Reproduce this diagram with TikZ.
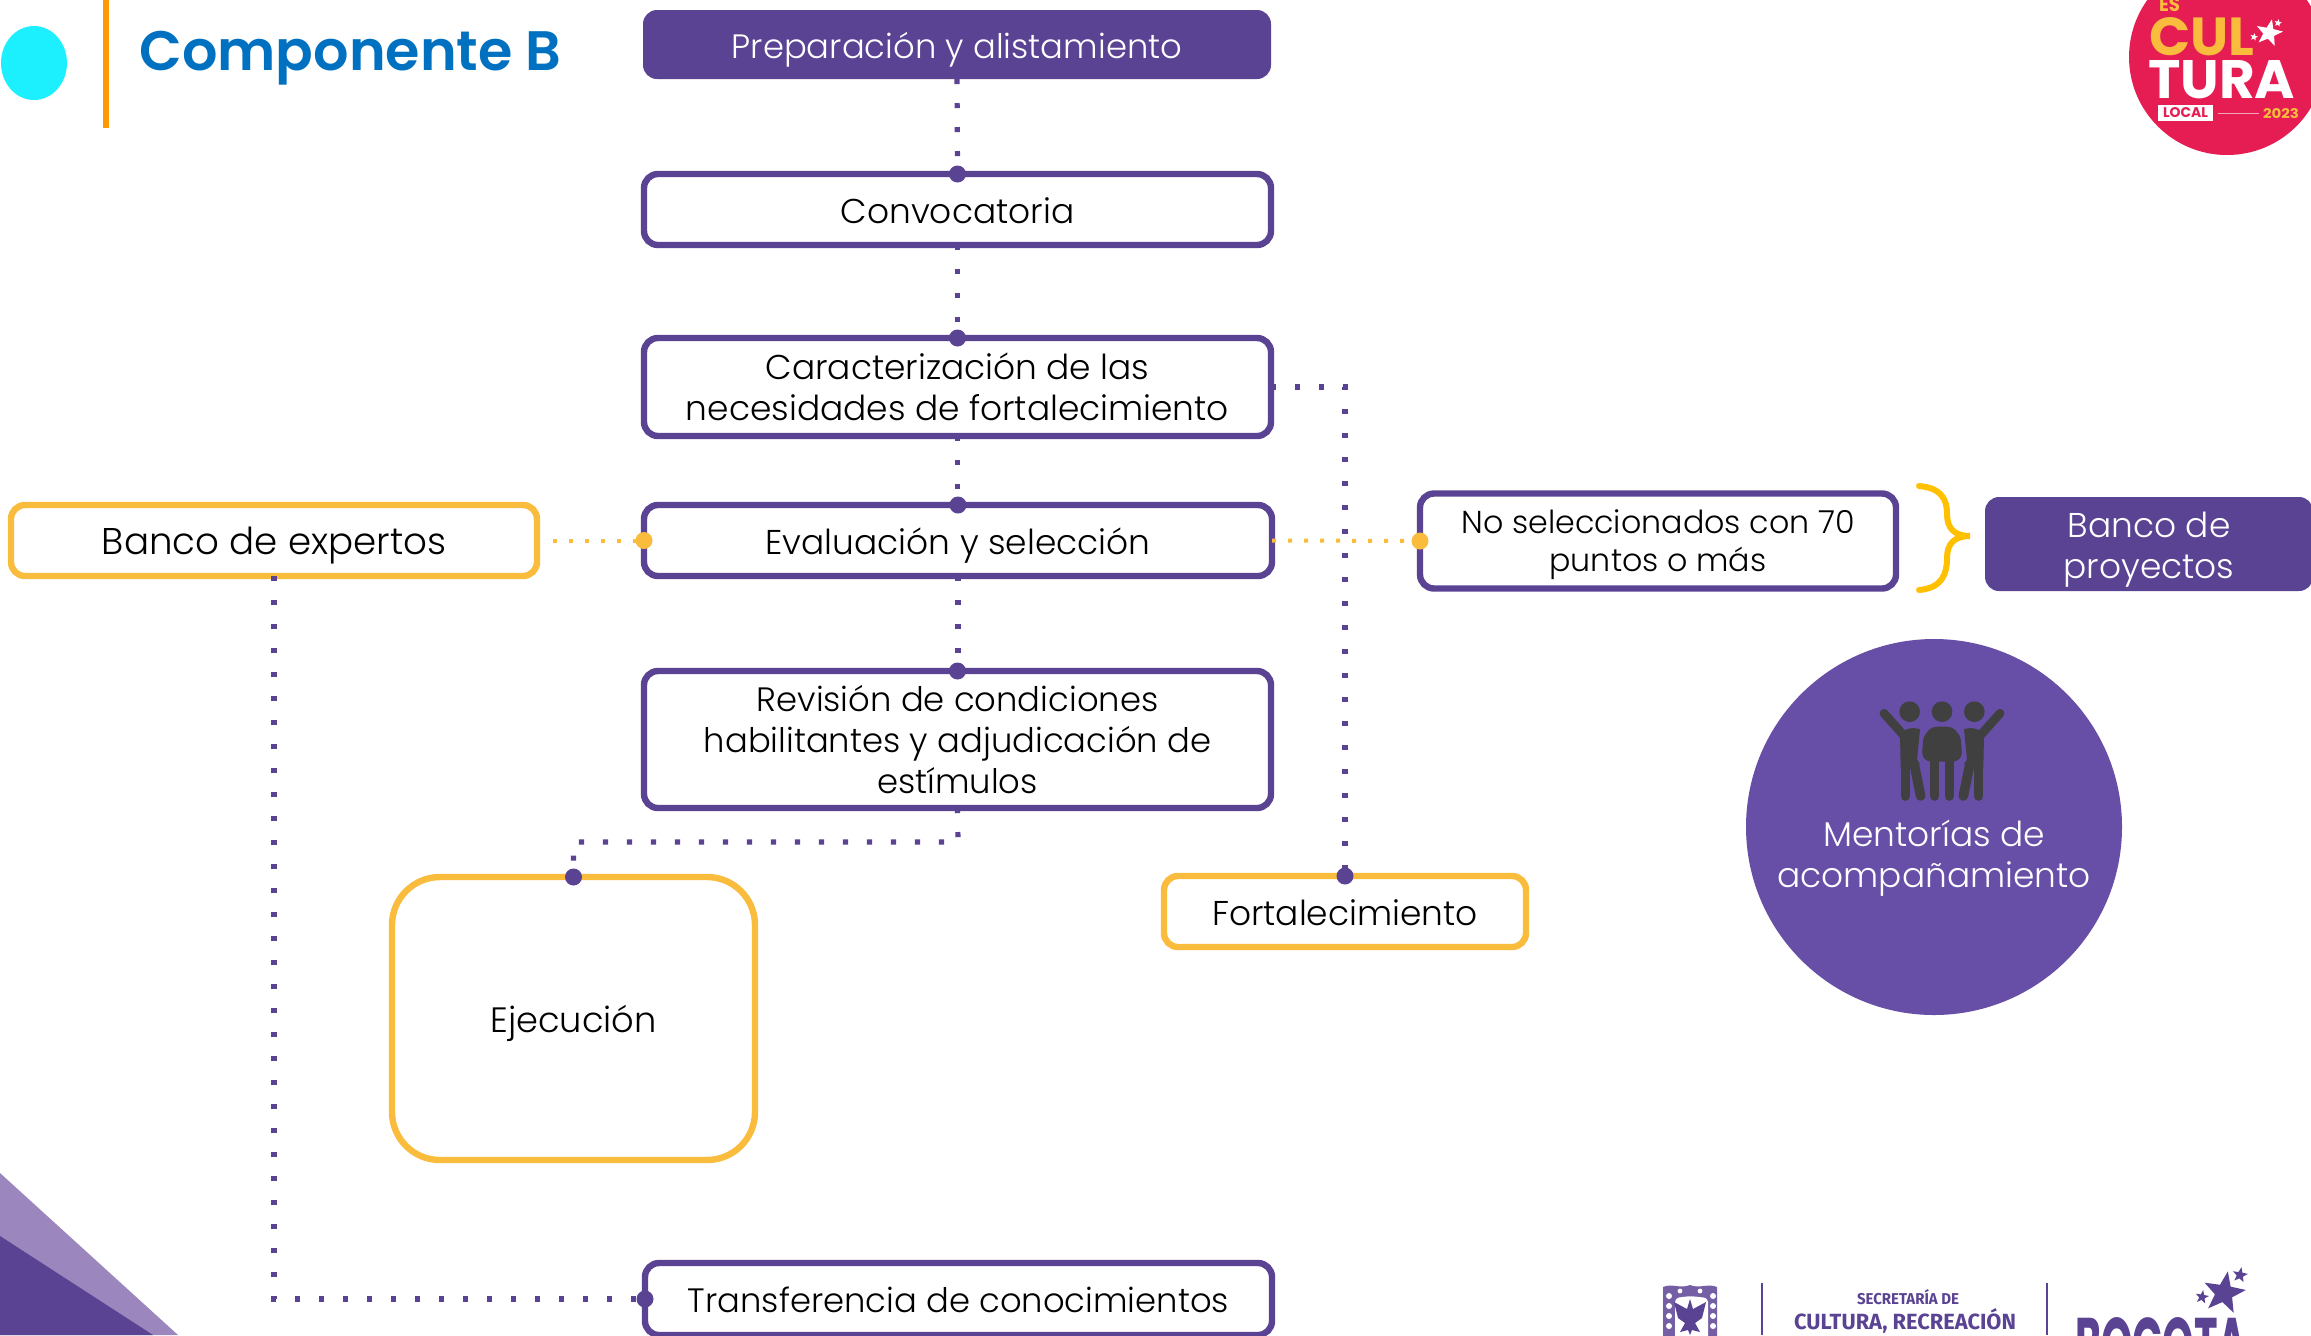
\documentclass[tikz,border=0pt]{standalone}
\usepackage{fontspec}
\usepackage{graphicx}
\setmainfont{Poppins Light}
\newfontfamily\titlefont{Poppins SemiBold}
\newfontfamily\boldfont{Poppins}[BoldFont={Poppins Bold}]
\newfontfamily\condfont{Fira Sans}
\usetikzlibrary{shapes.geometric}
\definecolor{purp}{HTML}{5B4394}
\definecolor{purpc}{HTML}{674EA7}
\definecolor{purpl}{HTML}{9B86BD}
\definecolor{yel}{HTML}{F9BC3C}
\definecolor{bracey}{HTML}{FFC000}
\definecolor{redl}{HTML}{E61D53}
\definecolor{iconc}{HTML}{404040}
\definecolor{cyanb}{HTML}{1CF0FF}
\definecolor{orangeb}{HTML}{FF9900}
\definecolor{titleb}{HTML}{0070C0}
\tikzset{
  x=0.5pt,y=-0.5pt,
  txt/.style={font=\fontsize{17.2}{20.6}\selectfont,align=center,text=black,inner sep=0,outer sep=0},
  tight/.style={font=\fontsize{16.9}{20.6}\selectfont},
  one/.style={text height=14pt,text depth=0.5pt},
  pbox/.style={txt,draw=purp,line width=3.2pt,rounded corners=7pt,fill=white},
  ybox/.style={pbox,draw=yel},
  fbox/.style={txt,fill=purp,text=white,rounded corners=7pt},
  pdots/.style={draw=purp,line width=2.6pt,dash pattern=on 2.6pt off 9.4pt},
  ydots/.style={draw=yel,line width=2pt,dash pattern=on 2pt off 6pt},
  pdot/.style={circle,fill=purp,minimum size=8.5pt,inner sep=0},
  ydot/.style={circle,fill=yel,minimum size=8.5pt,inner sep=0},
  lstar/.style={star,star points=5,star point ratio=2.4,fill=#1,inner sep=0,draw=none},
  logot/.style={inner sep=0,outer sep=0},
}
\newcommand{\fitt}[3]{\resizebox{#1pt}{#2pt}{\boldfont\bfseries #3}}
\newcommand{\cond}[3]{\resizebox{#1pt}{#2pt}{\condfont\bfseries #3}}
\begin{document}
\begin{tikzpicture}
\useasboundingbox (0,0) rectangle (2311,1335);
\clip (0,0) rectangle (2311,1335);
\fill[white] (0,0) rectangle (2311,1335);
% corner triangles
\fill[purpl] (0,1173) -- (178,1335) -- (0,1335) -- cycle;
\fill[purp] (0,1236) -- (153,1335) -- (0,1335) -- cycle;
% header
\fill[cyanb] (34,63) ellipse (33 and 37);
\fill[orangeb] (103,0) rectangle (109,128);
\node[anchor=base west,inner sep=0,text=titleb] (title) at (139,70) {\fontsize{27.8}{30}\titlefont Componente B};
% boxes
\node[fbox,tight,one,minimum width=314pt,minimum height=34.5pt] (prep) at (957,44.5) {Preparación y alistamiento};
\node[pbox,one,minimum width=313.5pt,minimum height=35.5pt] (conv) at (957.5,209.5) {Convocatoria};
\node[pbox,minimum width=313.5pt,minimum height=49pt] (car) at (957.5,387) {Caracterización de las\\necesidades de fortalecimiento};
\node[pbox,one,minimum width=314pt,minimum height=35.5pt] (eva) at (958,540.5) {Evaluación y selección};
\node[pbox,tight,minimum width=313.5pt,minimum height=68.5pt] (rev) at (957.5,739.5) {Revisión de condiciones\\habilitantes y adjudicación de\\estímulos};
\node[ybox,one,font=\fontsize{17.6}{20.6}\selectfont,rounded corners=24pt,minimum width=181.5pt,minimum height=141.5pt] (eje) at (573.5,1018.5) {Ejecución};
\node[ybox,one,minimum width=181pt,minimum height=35.5pt] (fort) at (1345,911.5) {Fortalecimiento};
\node[ybox,one,font=\fontsize{18.6}{20.6}\selectfont,minimum width=263pt,minimum height=35.5pt] (exp) at (274,540.5) {Banco de expertos};
\node[pbox,tight,one,minimum width=313.5pt,minimum height=36pt] (tra) at (958.5,1299) {Transferencia de conocimientos};
\node[pbox,minimum width=238pt,minimum height=47.5pt] (nos) at (1658,541) {};
\node[txt,font=\fontsize{15.85}{19}\selectfont] (nost) at (1658,545) {No seleccionados con 70\\puntos o más};
\node[fbox,minimum width=164pt,minimum height=47pt] (pro) at (2149,544) {};
\node[txt,text=white] (prot) at (2149,550) {Banco de\\proyectos};
% connectors
\draw[pdots] (prep.south) -- (conv.north);
\draw[pdots] (conv.south) -- (car.north);
\draw[pdots] (car.south) -- (car.south |- eva.north);
\draw[pdots] (eva.south) -- (rev.north -| eva.south);
\coordinate (rj) at (958,842);
\draw[pdots] (rev.south) -- (rj) -| (eje.north);
\draw[pdots] (car.east) -| (fort.north);
\draw[pdots] (exp.south) |- (tra.west);
\coordinate (exps) at (553,540.5);
\draw[ydots] (exps) -- (eva.west);
\draw[ydots] (eva.east) -- (nos.west);
\node[pdot] (d1) at (conv.north) {};
\node[pdot] (d2) at (car.north) {};
\node[pdot] (d3) at (eva.north) {};
\node[pdot] (d4) at (rev.north) {};
\node[pdot] (d5) at (eje.north) {};
\node[pdot] (d6) at (fort.north) {};
\node[pdot] (d7) at (tra.west) {};
\node[ydot] (d8) at (eva.west) {};
\node[ydot] (d9) at (nos.west) {};
% brace
\draw[bracey,line width=3pt,line cap=round] (1919,486) .. controls (1942,488) and (1947,500) .. (1947,514) .. controls (1947,528) and (1954,536) .. (1970,536) .. controls (1954,536) and (1947,544) .. (1947,558) .. controls (1947,574) and (1942,588) .. (1919,590);
% mentoring circle
\node[circle,fill=purpc,minimum size=188pt,inner sep=0] (men) at (1934,827) {};
\node[txt,text=white] (ment) at (1934,858) {Mentorías de\\acompañamiento};
% icon
\begin{scope}[shift={(1820,660)},x=1pt/6,y=-1pt/6]
 \foreach \hx in {269,366,463} \fill[iconc] (\hx,155) circle (31);
 \begin{scope}[draw=iconc,line cap=round,line join=round]
  \foreach \o/\m in {0/1,732/-1} {
   \begin{scope}[shift={(\o,0)},xscale=\m]
    \draw[line width=4.4pt] (192,160) -- (250,225);
    \fill[iconc] (240,225) .. controls (250,205) and (280,200) .. (300,208) -- (291,300) -- (300,312) -- (272,322) -- (242,322) -- cycle;
    \draw[line width=4.8pt] (256,300) -- (256,408);
    \draw[line width=4.8pt] (282,310) -- (302,408);
   \end{scope}
  }
  \fill[iconc,rounded corners=5pt] (304,305) -- (312,210) -- (420,210) -- (428,305) -- cycle;
  \fill[iconc,rounded corners=6pt] (315,200) rectangle (417,260);
  \draw[line width=4.8pt] (344,300) -- (344,408);
  \draw[line width=4.8pt] (388,300) -- (388,408);
 \end{scope}
\end{scope}
% logo top right
\node[circle,fill=redl,minimum size=98pt,inner sep=0] (logo) at (2227,57) {};
\node[logot,anchor=south west,text=yel] (les) at (2159,12) {\fitt{10.5}{7}{ES}};
\node[logot,anchor=south west,text=yel] (lcul) at (2149,56) {\fitt{52.5}{19}{CUL}};
\node[logot,anchor=south west,text=white] (ltur) at (2148,99) {\fitt{73.5}{19}{TURA}};
\node[fill=white,minimum width=27.5pt,minimum height=8pt,inner sep=0] (lbox) at (2185.5,113) {};
\node[logot,text=redl] (lloc) at (2185.5,113) {\fitt{22.5}{5}{LOCAL}};
\node[logot,text=yel] (l23) at (2281,114) {\fitt{18}{5}{2023}};
\coordinate (la) at (2218,113);
\coordinate (lb) at (2259,113);
\draw[redl!40!white,line width=0.5pt] (la) -- (lb);
\node[lstar=white,minimum size=14pt,rotate=-12] (s1) at (2269,33) {};
\node[lstar=white,minimum size=4pt,rotate=-12] (s2) at (2278,23) {};
\node[lstar=white,minimum size=4pt,rotate=-12] (s3) at (2254,37) {};
% footer logos
\fill[purp!85!white] (1663,1287) .. controls (1672,1283) and (1680,1289) .. (1690,1285) .. controls (1700,1289) and (1708,1283) .. (1717,1287) -- (1717,1345) -- (1663,1345) -- cycle;
\fill[white,rounded corners=2pt] (1675,1298) -- (1690,1296) -- (1708,1298) -- (1708,1345) -- (1675,1345) -- cycle;
\foreach \yy in {1296,1306,1316,1326} {
  \fill[white] (1669,\yy) circle (1.5pt);
  \fill[white] (1713,\yy) circle (1.5pt);
}
\fill[white] (1680,1291) circle (1.2pt);
\fill[white] (1700,1291) circle (1.2pt);
\fill[purp] (1690,1299) -- (1693,1309) -- (1706,1302) -- (1702,1318) -- (1695,1323) -- (1700,1332) -- (1692,1330) -- (1690,1335) -- (1688,1330) -- (1680,1332) -- (1685,1323) -- (1678,1318) -- (1674,1302) -- (1687,1309) -- cycle;
\draw[purp,line width=1pt] (1762,1283) -- (1762,1335);
\draw[purp,line width=1pt] (2047,1283) -- (2047,1335);
\node[logot,text=purp,anchor=base] (f1) at (1908,1304) {\cond{51}{7.5}{SECRETARÍA DE}};
\node[logot,anchor=base,text=purp] (f2) at (1905,1329) {\cond{111}{10.5}{CULTURA, RECREACIÓN}};
\node[logot,anchor=base,text=purp] (f3) at (2161,1369) {\fitt{86}{26}{BOGOTA}};
\node[lstar=purp,minimum size=22pt,rotate=-10] (s4) at (2224,1293) {};
\node[lstar=purp,minimum size=8pt,rotate=-10] (s5) at (2240,1275) {};
\node[lstar=purp,minimum size=7pt,rotate=-10] (s6) at (2202,1297) {};
\end{tikzpicture}
\end{document}
